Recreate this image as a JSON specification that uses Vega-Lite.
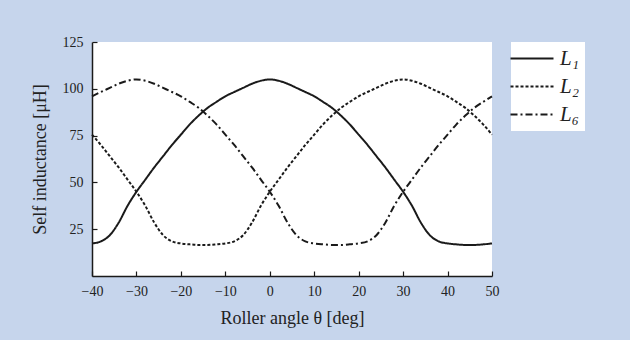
{
  "$schema": "https://vega.github.io/schema/vega-lite/v6.json",
  "width": 400,
  "height": 234,
  "autosize": {"type": "none"},
  "padding": {"left": 92, "top": 42, "right": 138, "bottom": 64},
  "background": "#c6d5ec",
  "config": {
    "view": {"fill": "white", "stroke": null},
    "font": "Liberation Serif",
    "axis": {
      "domainColor": "#1a1a1a", "domainWidth": 1.5, "tickColor": "#1a1a1a", "tickWidth": 1.2,
      "tickSize": -5, "grid": false, "labelFont": "Liberation Serif", "labelFontSize": 14,
      "labelColor": "#222", "titleFont": "Liberation Serif", "titleFontSize": 18,
      "titleFontWeight": "normal", "titleColor": "#222"
    }
  },
  "data": {"values": [
    {"t": -40, "s": "L₁", "v": 17.4}, {"t": -40, "s": "L₂", "v": 75.5}, {"t": -40, "s": "L₆", "v": 96},
    {"t": -38, "s": "L₁", "v": 18.5}, {"t": -38, "s": "L₂", "v": 70}, {"t": -38, "s": "L₆", "v": 98.3},
    {"t": -36, "s": "L₁", "v": 21.8}, {"t": -36, "s": "L₂", "v": 64}, {"t": -36, "s": "L₆", "v": 100.5},
    {"t": -34, "s": "L₁", "v": 28.5}, {"t": -34, "s": "L₂", "v": 58}, {"t": -34, "s": "L₆", "v": 102.7},
    {"t": -32, "s": "L₁", "v": 37.5}, {"t": -32, "s": "L₂", "v": 51.5}, {"t": -32, "s": "L₆", "v": 104.3},
    {"t": -30, "s": "L₁", "v": 45}, {"t": -30, "s": "L₂", "v": 45}, {"t": -30, "s": "L₆", "v": 105},
    {"t": -28, "s": "L₁", "v": 51.5}, {"t": -28, "s": "L₂", "v": 37.5}, {"t": -28, "s": "L₆", "v": 104.3},
    {"t": -26, "s": "L₁", "v": 58}, {"t": -26, "s": "L₂", "v": 28.5}, {"t": -26, "s": "L₆", "v": 102.7},
    {"t": -24, "s": "L₁", "v": 64}, {"t": -24, "s": "L₂", "v": 21.8}, {"t": -24, "s": "L₆", "v": 100.5},
    {"t": -22, "s": "L₁", "v": 70}, {"t": -22, "s": "L₂", "v": 18.5}, {"t": -22, "s": "L₆", "v": 98.3},
    {"t": -20, "s": "L₁", "v": 75.5}, {"t": -20, "s": "L₂", "v": 17.4}, {"t": -20, "s": "L₆", "v": 96},
    {"t": -18, "s": "L₁", "v": 81}, {"t": -18, "s": "L₂", "v": 16.9}, {"t": -18, "s": "L₆", "v": 93},
    {"t": -16, "s": "L₁", "v": 85.7}, {"t": -16, "s": "L₂", "v": 16.6}, {"t": -16, "s": "L₆", "v": 89.8},
    {"t": -14, "s": "L₁", "v": 89.8}, {"t": -14, "s": "L₂", "v": 16.6}, {"t": -14, "s": "L₆", "v": 85.7},
    {"t": -12, "s": "L₁", "v": 93}, {"t": -12, "s": "L₂", "v": 16.9}, {"t": -12, "s": "L₆", "v": 81},
    {"t": -10, "s": "L₁", "v": 96}, {"t": -10, "s": "L₂", "v": 17.4}, {"t": -10, "s": "L₆", "v": 75.5},
    {"t": -8, "s": "L₁", "v": 98.3}, {"t": -8, "s": "L₂", "v": 18.5}, {"t": -8, "s": "L₆", "v": 70},
    {"t": -6, "s": "L₁", "v": 100.5}, {"t": -6, "s": "L₂", "v": 21.8}, {"t": -6, "s": "L₆", "v": 64},
    {"t": -4, "s": "L₁", "v": 102.7}, {"t": -4, "s": "L₂", "v": 28.5}, {"t": -4, "s": "L₆", "v": 58},
    {"t": -2, "s": "L₁", "v": 104.3}, {"t": -2, "s": "L₂", "v": 37.5}, {"t": -2, "s": "L₆", "v": 51.5},
    {"t": 0, "s": "L₁", "v": 105}, {"t": 0, "s": "L₂", "v": 45}, {"t": 0, "s": "L₆", "v": 45},
    {"t": 2, "s": "L₁", "v": 104.3}, {"t": 2, "s": "L₂", "v": 51.5}, {"t": 2, "s": "L₆", "v": 37.5},
    {"t": 4, "s": "L₁", "v": 102.7}, {"t": 4, "s": "L₂", "v": 58}, {"t": 4, "s": "L₆", "v": 28.5},
    {"t": 6, "s": "L₁", "v": 100.5}, {"t": 6, "s": "L₂", "v": 64}, {"t": 6, "s": "L₆", "v": 21.8},
    {"t": 8, "s": "L₁", "v": 98.3}, {"t": 8, "s": "L₂", "v": 70}, {"t": 8, "s": "L₆", "v": 18.5},
    {"t": 10, "s": "L₁", "v": 96}, {"t": 10, "s": "L₂", "v": 75.5}, {"t": 10, "s": "L₆", "v": 17.4},
    {"t": 12, "s": "L₁", "v": 93}, {"t": 12, "s": "L₂", "v": 81}, {"t": 12, "s": "L₆", "v": 16.9},
    {"t": 14, "s": "L₁", "v": 89.8}, {"t": 14, "s": "L₂", "v": 85.7}, {"t": 14, "s": "L₆", "v": 16.6},
    {"t": 16, "s": "L₁", "v": 85.7}, {"t": 16, "s": "L₂", "v": 89.8}, {"t": 16, "s": "L₆", "v": 16.6},
    {"t": 18, "s": "L₁", "v": 81}, {"t": 18, "s": "L₂", "v": 93}, {"t": 18, "s": "L₆", "v": 16.9},
    {"t": 20, "s": "L₁", "v": 75.5}, {"t": 20, "s": "L₂", "v": 96}, {"t": 20, "s": "L₆", "v": 17.4},
    {"t": 22, "s": "L₁", "v": 70}, {"t": 22, "s": "L₂", "v": 98.3}, {"t": 22, "s": "L₆", "v": 18.5},
    {"t": 24, "s": "L₁", "v": 64}, {"t": 24, "s": "L₂", "v": 100.5}, {"t": 24, "s": "L₆", "v": 21.8},
    {"t": 26, "s": "L₁", "v": 58}, {"t": 26, "s": "L₂", "v": 102.7}, {"t": 26, "s": "L₆", "v": 28.5},
    {"t": 28, "s": "L₁", "v": 51.5}, {"t": 28, "s": "L₂", "v": 104.3}, {"t": 28, "s": "L₆", "v": 37.5},
    {"t": 30, "s": "L₁", "v": 45}, {"t": 30, "s": "L₂", "v": 105}, {"t": 30, "s": "L₆", "v": 45},
    {"t": 32, "s": "L₁", "v": 37.5}, {"t": 32, "s": "L₂", "v": 104.3}, {"t": 32, "s": "L₆", "v": 51.5},
    {"t": 34, "s": "L₁", "v": 28.5}, {"t": 34, "s": "L₂", "v": 102.7}, {"t": 34, "s": "L₆", "v": 58},
    {"t": 36, "s": "L₁", "v": 21.8}, {"t": 36, "s": "L₂", "v": 100.5}, {"t": 36, "s": "L₆", "v": 64},
    {"t": 38, "s": "L₁", "v": 18.5}, {"t": 38, "s": "L₂", "v": 98.3}, {"t": 38, "s": "L₆", "v": 70},
    {"t": 40, "s": "L₁", "v": 17.4}, {"t": 40, "s": "L₂", "v": 96}, {"t": 40, "s": "L₆", "v": 75.5},
    {"t": 42, "s": "L₁", "v": 16.9}, {"t": 42, "s": "L₂", "v": 93}, {"t": 42, "s": "L₆", "v": 81},
    {"t": 44, "s": "L₁", "v": 16.6}, {"t": 44, "s": "L₂", "v": 89.8}, {"t": 44, "s": "L₆", "v": 85.7},
    {"t": 46, "s": "L₁", "v": 16.6}, {"t": 46, "s": "L₂", "v": 85.7}, {"t": 46, "s": "L₆", "v": 89.8},
    {"t": 48, "s": "L₁", "v": 16.9}, {"t": 48, "s": "L₂", "v": 81}, {"t": 48, "s": "L₆", "v": 93},
    {"t": 50, "s": "L₁", "v": 17.4}, {"t": 50, "s": "L₂", "v": 75.5}, {"t": 50, "s": "L₆", "v": 96}
  ]},
  "mark": {"type": "line", "interpolate": "monotone", "strokeWidth": 2, "color": "#1a1a1a"},
  "encoding": {
    "x": {"field": "t", "type": "quantitative",
      "scale": {"domain": [-40, 50], "nice": false},
      "axis": {"values": [-40, -30, -20, -10, 0, 10, 20, 30, 40, 50], "title": "Roller angle  θ [deg]", "labelPadding": 13.5, "titlePadding": 11, "labelFlush": false}},
    "y": {"field": "v", "type": "quantitative",
      "scale": {"domain": [0, 125], "nice": false},
      "axis": {"values": [25, 50, 75, 100, 125], "title": "Self inductance [μH]", "labelPadding": 14, "titlePadding": 13}},
    "strokeDash": {"field": "s", "type": "nominal",
      "scale": {"domain": ["L₁", "L₂", "L₆"], "range": [[1, 0], [3, 2], [7, 3, 2, 3]]},
      "legend": {"title": null, "orient": "right", "offset": 15, "fillColor": "white", "padding": 6,
        "rowPadding": 6, "symbolType": "M-3.4,0H5.2", "symbolSize": 100, "symbolStrokeWidth": 2,
        "symbolStrokeColor": "#1a1a1a", "labelFont": "Liberation Serif", "labelFontStyle": "italic",
        "labelFontSize": 21, "labelColor": "#222", "labelOffset": 22}}
  }
}
